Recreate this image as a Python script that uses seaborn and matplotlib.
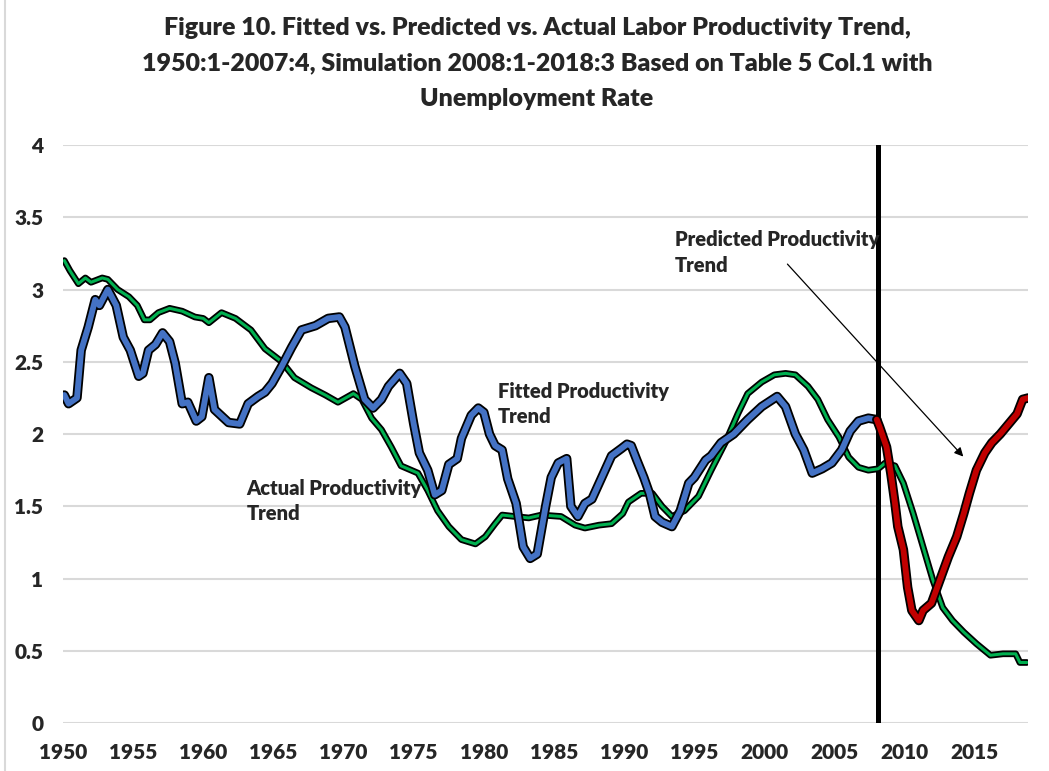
import matplotlib
matplotlib.use("Agg")
import matplotlib.pyplot as plt
import matplotlib.patheffects as pe
import seaborn as sns
from matplotlib.lines import Line2D

# Fitted productivity trend (blue), 1950-2007
fitted_year = [1950.1, 1950.4, 1951.0, 1951.3, 1951.8, 1952.3, 1952.6, 1953.2, 1953.8, 1954.3,
               1954.8, 1955.4, 1955.7, 1956.1, 1956.6, 1957.1, 1957.6, 1958.0, 1958.5, 1958.9,
               1959.5, 1959.9, 1960.4, 1960.8, 1961.8, 1962.6, 1963.2, 1963.9, 1964.4, 1964.9,
               1965.6, 1966.3, 1967.0, 1968.0, 1968.9, 1969.7, 1970.1, 1970.8, 1971.5, 1972.1,
               1972.7, 1973.2, 1974.0, 1974.5, 1975.0, 1975.4, 1976.0, 1976.5, 1977.0, 1977.5,
               1978.1, 1978.4, 1979.1, 1979.6, 1980.0, 1980.4, 1980.8, 1981.3, 1981.7, 1982.3,
               1982.8, 1983.3, 1983.8, 1984.4, 1984.8, 1985.3, 1985.9, 1986.2, 1986.7, 1987.2,
               1987.7, 1988.4, 1989.1, 1989.8, 1990.2, 1990.5, 1990.9, 1991.4, 1991.8, 1992.2,
               1992.7, 1993.4, 1994.0, 1994.6, 1995.0, 1995.8, 1996.2, 1996.9, 1997.8, 1998.8,
               1999.8, 2000.9, 2001.5, 2002.2, 2002.8, 2003.4, 2004.1, 2004.8, 2005.5, 2006.1,
               2006.7, 2007.4, 2008.0]
fitted_val = [2.27, 2.21, 2.25, 2.58, 2.74, 2.93, 2.89, 3.00, 2.89, 2.67,
              2.58, 2.40, 2.42, 2.58, 2.62, 2.70, 2.64, 2.49, 2.21, 2.22,
              2.09, 2.12, 2.39, 2.17, 2.08, 2.07, 2.21, 2.26, 2.29, 2.35,
              2.47, 2.60, 2.72, 2.75, 2.80, 2.81, 2.74, 2.47, 2.24, 2.18,
              2.24, 2.33, 2.42, 2.35, 2.07, 1.87, 1.75, 1.58, 1.61, 1.79,
              1.83, 1.97, 2.13, 2.18, 2.15, 2.00, 1.92, 1.89, 1.69, 1.52,
              1.22, 1.14, 1.17, 1.50, 1.70, 1.80, 1.83, 1.50, 1.43, 1.52,
              1.55, 1.70, 1.85, 1.90, 1.93, 1.92, 1.82, 1.70, 1.59, 1.43,
              1.39, 1.36, 1.47, 1.66, 1.70, 1.82, 1.85, 1.94, 2.00, 2.10,
              2.19, 2.26, 2.19, 2.00, 1.89, 1.73, 1.76, 1.80, 1.89, 2.02,
              2.09, 2.11, 2.10]

# Actual productivity trend (green), 1950-2018
actual_year = [1950.1, 1950.5, 1951.1, 1951.6, 1952.0, 1952.8, 1953.2, 1953.9, 1954.7, 1955.3,
               1955.8, 1956.2, 1956.8, 1957.6, 1958.5, 1959.4, 1960.0, 1960.4, 1961.3, 1962.3,
               1963.4, 1964.4, 1965.6, 1966.5, 1967.7, 1968.7, 1969.6, 1970.7, 1971.3, 1972.0,
               1972.7, 1973.4, 1974.1, 1975.3, 1976.0, 1976.7, 1977.5, 1978.4, 1979.4, 1980.1,
               1980.8, 1981.3, 1982.2, 1983.2, 1984.1, 1985.5, 1986.5, 1987.2, 1988.2, 1989.1,
               1989.9, 1990.3, 1991.2, 1992.0, 1992.7, 1993.4, 1994.3, 1995.3, 1996.2, 1997.2,
               1998.1, 1998.8, 1999.8, 2000.7, 2001.5, 2002.2, 2003.1, 2003.8, 2004.5, 2005.3,
               2006.0, 2006.7, 2007.4, 2008.1, 2008.6, 2009.3, 2009.9, 2010.6, 2011.3, 2012.0,
               2012.7, 2013.4, 2014.2, 2015.1, 2016.1, 2017.0, 2017.9, 2018.2, 2018.7]
actual_val = [3.20, 3.13, 3.04, 3.08, 3.05, 3.08, 3.07, 3.00, 2.95, 2.89,
              2.79, 2.79, 2.84, 2.87, 2.85, 2.81, 2.80, 2.77, 2.84, 2.80,
              2.72, 2.59, 2.50, 2.39, 2.32, 2.27, 2.22, 2.28, 2.24, 2.11,
              2.03, 1.91, 1.78, 1.73, 1.61, 1.47, 1.36, 1.27, 1.24, 1.29,
              1.38, 1.44, 1.43, 1.42, 1.44, 1.43, 1.37, 1.35, 1.37, 1.38,
              1.45, 1.53, 1.59, 1.59, 1.50, 1.43, 1.47, 1.57, 1.75, 1.94,
              2.14, 2.28, 2.36, 2.41, 2.42, 2.41, 2.33, 2.24, 2.10, 1.98,
              1.84, 1.77, 1.75, 1.76, 1.80, 1.78, 1.66, 1.45, 1.22, 0.99,
              0.80, 0.71, 0.63, 0.55, 0.47, 0.48, 0.48, 0.42, 0.42]

# Predicted productivity trend (red), simulation 2008-2018
pred_year = [2008.0, 2008.2, 2008.7, 2009.0, 2009.3, 2009.5, 2009.9, 2010.2, 2010.5, 2011.0,
             2011.3, 2011.9, 2012.5, 2013.1, 2013.7, 2014.2, 2014.6, 2015.1, 2015.7, 2016.2,
             2016.8, 2017.4, 2018.0, 2018.4, 2018.8]
pred_val = [2.10, 2.05, 1.91, 1.73, 1.52, 1.36, 1.20, 0.94, 0.78, 0.71,
            0.78, 0.83, 0.99, 1.15, 1.29, 1.45, 1.59, 1.75, 1.87, 1.94,
            2.00, 2.07, 2.14, 2.24, 2.25]

x_ticks = [1950, 1955, 1960, 1965, 1970, 1975, 1980, 1985, 1990, 1995, 2000, 2005, 2010, 2015]
y_ticks = [0, 0.5, 1, 1.5, 2, 2.5, 3, 3.5, 4]
y_labels = ["0", "0.5", "1", "1.5", "2", "2.5", "3", "3.5", "4"]
sim_start = 2008.1

sns.set_style("white")
plt.rcParams['font.family'] = ['Lato', 'DejaVu Sans']
WEIGHT = 'heavy'

fig = plt.figure(figsize=(10.49, 7.71), dpi=100)
ax = fig.add_axes([0.060, 0.062, 0.920, 0.750])

ax.yaxis.grid(True, color='#d9d9d9', linewidth=1.5)
ax.set_axisbelow(True)

ax.axvline(sim_start, color='black', linewidth=3.6, zorder=2)

sns.lineplot(x=actual_year, y=actual_val, ax=ax, color='#00b050', linewidth=2.2, zorder=3,
             path_effects=[pe.Stroke(linewidth=4.8, foreground='black'), pe.Normal()])
sns.lineplot(x=fitted_year, y=fitted_val, ax=ax, color='#4472c4', linewidth=4.2, zorder=4,
             path_effects=[pe.Stroke(linewidth=6.8, foreground='black'), pe.Normal()])
sns.lineplot(x=pred_year, y=pred_val, ax=ax, color='#c00000', linewidth=4.2, zorder=4,
             path_effects=[pe.Stroke(linewidth=6.8, foreground='black'), pe.Normal()])

ax.set_xlim(1950, 2018.78)
ax.set_ylim(0, 4)
ax.set_xticks(x_ticks)
ax.set_xticklabels([str(t) for t in x_ticks], fontsize=15, fontweight=WEIGHT)
ax.set_yticks(y_ticks)
ax.set_yticklabels(y_labels, fontsize=15, fontweight=WEIGHT)
ax.tick_params(axis='both', length=0)
ax.tick_params(axis='y', pad=14)
ax.tick_params(axis='x', pad=14)
for s in ax.spines.values():
    s.set_visible(False)

ax.text(1963.1, 1.69, "Actual Productivity\nTrend", fontsize=14.5, fontweight=WEIGHT,
        va='top', ha='left', linespacing=1.4)
ax.text(1981.0, 2.36, "Fitted Productivity\nTrend", fontsize=14.5, fontweight=WEIGHT,
        va='top', ha='left', linespacing=1.4)
ax.text(1993.6, 3.41, "Predicted Productivity\nTrend", fontsize=14.5, fontweight=WEIGHT,
        va='top', ha='left', linespacing=1.4)
ax.annotate("", xy=(2014.3, 1.83), xytext=(2001.5, 3.19),
            arrowprops=dict(arrowstyle='-|>', color='black', lw=0.9, mutation_scale=13))

fig.text(0.512, 0.978,
         "Figure 10. Fitted vs. Predicted vs. Actual Labor Productivity Trend,\n"
         "1950:1-2007:4, Simulation 2008:1-2018:3 Based on Table 5 Col.1 with\n"
         "Unemployment Rate",
         ha='center', va='top', fontsize=18, fontweight=WEIGHT, linespacing=1.75)

fig.add_artist(Line2D([0.005, 0.005], [0, 1], color='#d9d9d9', linewidth=1.5,
                      transform=fig.transFigure))

fig.savefig("out.png", dpi=100)
